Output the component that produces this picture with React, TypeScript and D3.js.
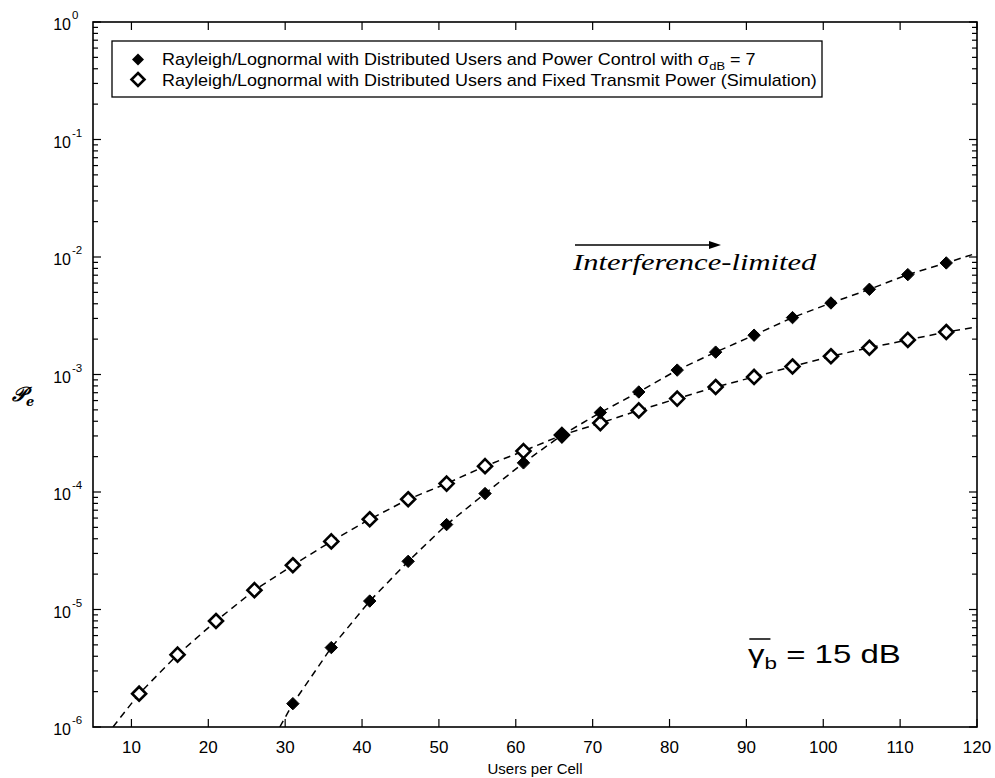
import * as d3 from "d3";
import React from "react";

// x positions of the markers (users per cell)
const usersFixed = [11, 16, 21, 26, 31, 36, 41, 46, 51, 56, 61, 66, 71, 76, 81, 86, 91, 96, 101, 106, 111, 116];
const peFixed = [
  1.92e-6, 4.13e-6, 7.98e-6, 1.46e-5, 2.38e-5, 3.8e-5, 5.86e-5, 8.67e-5, 1.18e-4, 1.66e-4, 2.23e-4,
  3.05e-4, 3.86e-4, 4.95e-4, 6.24e-4, 7.83e-4, 9.53e-4, 1.17e-3, 1.43e-3, 1.69e-3, 1.97e-3, 2.3e-3,
];
const usersPC = [31, 36, 41, 46, 51, 56, 61, 66, 71, 76, 81, 86, 91, 96, 101, 106, 111, 116];
const pePC = [
  1.58e-6, 4.74e-6, 1.18e-5, 2.57e-5, 5.28e-5, 9.7e-5, 1.77e-4, 3.05e-4, 4.74e-4, 7.1e-4, 1.09e-3,
  1.55e-3, 2.16e-3, 3.05e-3, 4.06e-3, 5.31e-3, 7.08e-3, 8.9e-3,
];
// where the dashed curves run out of the frame
const fixedCurveEnds = [
  [7.6, 1e-6],
  [120, 2.54e-3],
];
const pcCurveEnds = [
  [29.3, 1e-6],
  [120, 1.08e-2],
];

const xTicks = [10, 20, 30, 40, 50, 60, 70, 80, 90, 100, 110, 120];
const yDecades = [0, -1, -2, -3, -4, -5, -6];

const legendLabels = [
  "Rayleigh/Lognormal with Distributed Users and Power Control with ",
  "Rayleigh/Lognormal with Distributed Users and Fixed Transmit Power (Simulation)",
];

const W = 995,
  H = 778;
const plot = { left: 93, right: 977, top: 22, bottom: 727 };
const font = "'Liberation Sans', Arial, Helvetica, sans-serif";

const diamond = (cx: number, cy: number, r: number) =>
  `M${cx},${cy - r}L${cx + r},${cy}L${cx},${cy + r}L${cx - r},${cy}Z`;

export default function App() {
  const x = d3.scaleLinear().domain([5, 120]).range([plot.left, plot.right]);
  const y = d3.scaleLog().domain([1e-6, 1]).range([plot.bottom, plot.top]);

  const line = d3
    .line<number[]>()
    .x((d) => x(d[0]))
    .y((d) => y(d[1]));

  const fixedPts = usersFixed.map((u, i) => [u, peFixed[i]]);
  const pcPts = usersPC.map((u, i) => [u, pePC[i]]);
  const fixedCurve = [fixedCurveEnds[0], ...fixedPts, fixedCurveEnds[1]];
  const pcCurve = [pcCurveEnds[0], ...pcPts, pcCurveEnds[1]];

  const yTicks = y.ticks();
  const isMajor = (v: number) => Math.abs(Math.log10(v) - Math.round(Math.log10(v))) < 1e-9;

  return (
    <svg
      width={W}
      height={H}
      style={{ position: "absolute", left: 0, top: 0, background: "#fff" }}
      fontFamily={font}
    >
      <rect width={W} height={H} fill="#fff" />
      <defs>
        <clipPath id="plotClip">
          <rect x={plot.left} y={plot.top} width={plot.right - plot.left} height={plot.bottom - plot.top} />
        </clipPath>
      </defs>

      {/* y ticks, both sides, inward */}
      {yTicks.map((t, i) => {
        const len = isMajor(t) ? 8 : 5;
        return (
          <g key={"yt" + i} stroke="#000" strokeWidth={1.2}>
            <line x1={plot.left} x2={plot.left + len} y1={y(t)} y2={y(t)} />
            <line x1={plot.right} x2={plot.right - len} y1={y(t)} y2={y(t)} />
          </g>
        );
      })}
      {/* x ticks, bottom and top */}
      {xTicks.map((t) => (
        <g key={"xt" + t} stroke="#000" strokeWidth={1.2}>
          <line x1={x(t)} x2={x(t)} y1={plot.bottom} y2={plot.bottom - 8} />
          <line x1={x(t)} x2={x(t)} y1={plot.top} y2={plot.top + 8} />
        </g>
      ))}

      {/* tick labels */}
      {xTicks.map((t) => (
        <text key={"xl" + t} x={x(t)} y={plot.bottom + 26} textAnchor="middle" fontSize={17}>
          {t}
        </text>
      ))}
      {yDecades.map((e) => (
        <text key={"yl" + e} x={71} y={y(Math.pow(10, e)) + 8} textAnchor="end" fontSize={16}>
          10
        </text>
      ))}
      {yDecades.map((e) => (
        <text key={"ye" + e} x={72} y={y(Math.pow(10, e)) - 3} fontSize={11.5}>
          {e === 0 ? "0" : "-" + Math.abs(e)}
        </text>
      ))}

      {/* dashed curves */}
      <g clipPath="url(#plotClip)" fill="none" stroke="#000" strokeWidth={1.5} strokeDasharray="7,5">
        <path d={line(fixedCurve) || ""} />
        <path d={line(pcCurve) || ""} />
      </g>

      {/* markers */}
      {fixedPts.map((d, i) => (
        <path key={"fm" + i} d={diamond(x(d[0]), y(d[1]), 7)} fill="#fff" stroke="#000" strokeWidth={2.6} />
      ))}
      {pcPts.map((d, i) => (
        <path key={"pm" + i} d={diamond(x(d[0]), y(d[1]), 6.2)} fill="#000" stroke="#000" strokeWidth={1} />
      ))}

      {/* frame */}
      <rect
        x={plot.left}
        y={plot.top}
        width={plot.right - plot.left}
        height={plot.bottom - plot.top}
        fill="none"
        stroke="#000"
        strokeWidth={1.6}
      />

      {/* legend */}
      <g>
        <rect x={112} y={41} width={710} height={56} fill="#fff" stroke="#000" strokeWidth={1.3} />
        <path d={diamond(138, 59.5, 6)} fill="#000" />
        <path d={diamond(138, 79.5, 6.5)} fill="#fff" stroke="#000" strokeWidth={2.6} />
        <g transform="translate(162,0) scale(1.125,1)">
          <text x={0} y={65.5} fontSize={16}>
            {legendLabels[0]}
            <tspan fontSize={16.5}>σ</tspan>
            <tspan fontSize={11.5} dy={5}>
              dB
            </tspan>
            <tspan dy={-5}> = 7</tspan>
          </text>
          <text x={0} y={86} fontSize={16}>
            {legendLabels[1]}
          </text>
        </g>
      </g>

      {/* annotations */}
      <line x1={575} x2={712} y1={245} y2={245} stroke="#000" strokeWidth={1.6} />
      <path d="M721,245L709,241L709,249Z" fill="#000" />
      <g transform="translate(573,0) scale(1.33,1)">
        <text
          x={0}
          y={270}
          fontSize={23}
          fontStyle="italic"
          fontFamily="'Liberation Serif', 'Times New Roman', serif"
        >
          Interference-limited
        </text>
      </g>

      <g transform="translate(748,0) scale(1.32,1)">
        <line x1={1} x2={17} y1={639} y2={639} stroke="#000" strokeWidth={1.5} />
        <text x={0} y={663} fontSize={25}>
          γ
          <tspan fontSize={17} dy={6}>
            b
          </tspan>
          <tspan dy={-6}> = 15 dB</tspan>
        </text>
      </g>

      {/* axis titles */}
      <text x={(plot.left + plot.right) / 2} y={774} textAnchor="middle" fontSize={15}>
        Users per Cell
      </text>
      <text x={12} y={401} fontSize={20} fontFamily="'DejaVu Serif', serif" fontStyle="italic" fontWeight="bold">
        𝒫
        <tspan fontSize={13} dy={5}>
          e
        </tspan>
      </text>
    </svg>
  );
}
